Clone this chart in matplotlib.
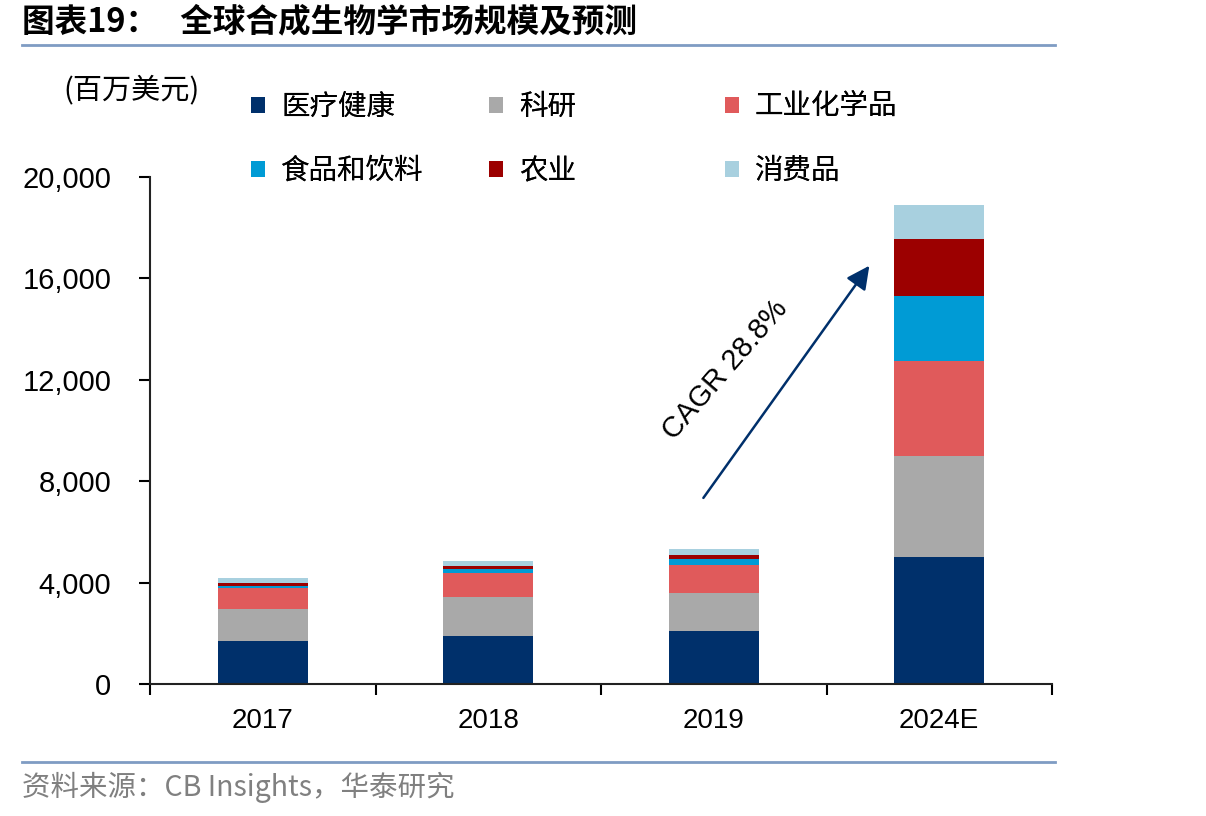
import matplotlib
matplotlib.use('Agg')
import matplotlib.pyplot as plt
from matplotlib.patches import Patch
from matplotlib.lines import Line2D
import numpy as np

plt.rcParams['font.family'] = ['Liberation Sans', 'Noto Sans CJK SC', 'DejaVu Sans']
cjk = ['Noto Sans CJK SC', 'Liberation Sans']

years = ['2017', '2018', '2019', '2024E']
segments = ['医疗健康', '科研', '工业化学品', '食品和饮料', '农业', '消费品']
healthcare = [1710, 1890, 2100, 5020]
research = [1250, 1530, 1490, 3970]
industrial = [840, 960, 1100, 3750]
food = [80, 140, 230, 2580]
agriculture = [120, 130, 180, 2230]
consumer = [170, 190, 230, 1340]
colors = ['#00306b', '#a9a9a9', '#e05a5b', '#009bd5', '#9c0000', '#a8d0df']

fig = plt.figure(figsize=(12.06, 8.16), dpi=100)
ax = fig.add_axes([0.1244, 0.1618, 0.7479, 0.6213])

x = np.arange(len(years))
bottom = np.zeros(len(years))
for vals, c in zip([healthcare, research, industrial, food, agriculture, consumer], colors):
    ax.bar(x, vals, width=0.4, bottom=bottom, color=c, edgecolor='none')
    bottom += np.array(vals)

ax.set_xlim(-0.5, 3.5)
ax.set_ylim(0, 20000)
ax.set_yticks([0, 4000, 8000, 12000, 16000, 20000])
ax.set_yticklabels(['0', '4,000', '8,000', '12,000', '16,000', '20,000'])
ax.set_xticks(x)
ax.set_xticklabels(years)
ax.set_xticks(np.arange(-0.5, 4, 1), minor=True)
ax.tick_params(axis='x', which='major', length=0, labelsize=20, pad=17)
ax.tick_params(axis='x', which='minor', length=8, width=1.5, direction='out')
ax.tick_params(axis='y', length=8, width=1.5, direction='out', labelsize=21, pad=20)
for s in ['top', 'right']:
    ax.spines[s].set_visible(False)
for s in ['left', 'bottom']:
    ax.spines[s].set_linewidth(1.5)
    ax.spines[s].set_color('#222222')

# CAGR arrow
ax.annotate('', xy=(2.69, 16500), xytext=(1.954, 7340),
            arrowprops=dict(arrowstyle='-|>', color='#00306b', lw=1.8,
                            mutation_scale=35, shrinkA=0, shrinkB=0))
ax.text(2.05, 12400, 'CAGR 28.8%', rotation=49, fontsize=21,
        ha='center', va='center')

# legend in three columns
handles = [Patch(facecolor=c, edgecolor='none') for c in colors]
col_x = [251, 489, 725]
for i, cx in enumerate(col_x):
    leg = fig.legend([handles[i], handles[i + 3]], [segments[i], segments[i + 3]],
                     loc='upper left', bbox_to_anchor=(cx / 1206, 1 - 92 / 816),
                     frameon=False, borderpad=0, borderaxespad=0,
                     handlelength=0.5, handleheight=0.5, handletextpad=0.55,
                     labelspacing=1.2, prop={'family': cjk, 'size': 20.5})
    fig.add_artist(leg)

fig.text(132 / 1206, 1 - 90 / 816, '(百万美元)', family=cjk, fontsize=21,
         ha='center', va='center')

# title, rules and source
fig.text(22 / 1206, 1 - 22 / 816, '图表19：   全球合成生物学市场规模及预测', family=cjk,
         fontsize=23.5, fontweight='bold', ha='left', va='center')
fig.add_artist(Line2D([22 / 1206, 1055 / 1206], [1 - 45 / 816] * 2, color='#7f9cc3', lw=2))
fig.add_artist(Line2D([22 / 1206, 1055 / 1206], [1 - 762 / 816] * 2, color='#7f9cc3', lw=2))
fig.text(22 / 1206, 1 - 787 / 816, '资料来源：CB Insights，华泰研究', family=cjk,
         fontsize=20.5, color='#808080', ha='left', va='center')

fig.savefig('out.png', dpi=100)
